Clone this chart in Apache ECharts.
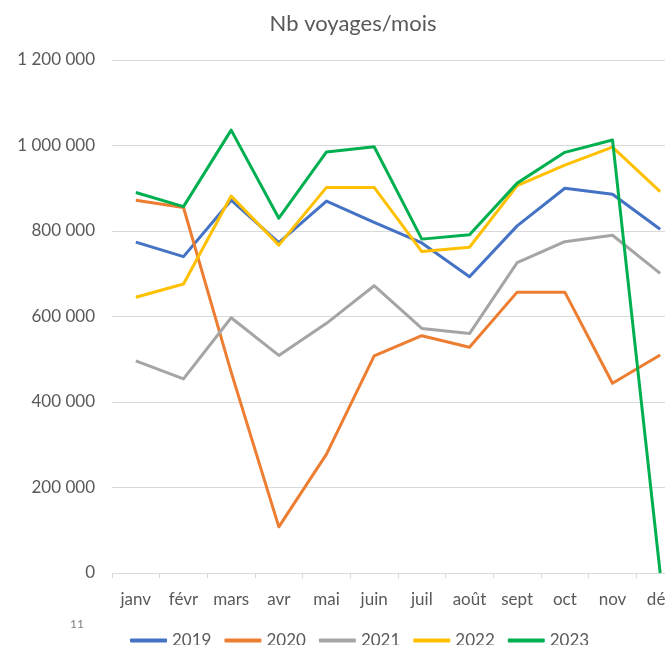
<!DOCTYPE html>
<html>
<head>
<meta charset="utf-8">
<script src="https://cdn.jsdelivr.net/npm/echarts@6/dist/echarts.min.js"></script>
<style>
  html, body { margin: 0; padding: 0; background: #fff; overflow: hidden; }
  /* le graphique d'origine est plus large que la fenêtre : il est rogné à droite */
  #main { width: 706px; height: 645px; }
</style>
</head>
<body>
<div id="main"></div>
<script>
// données
var mois = ['janv', 'févr', 'mars', 'avr', 'mai', 'juin', 'juil', 'août', 'sept', 'oct', 'nov', 'déc'];
var annees = ['2019', '2020', '2021', '2022', '2023'];
var couleurs = ['#4472C4', '#ED7D31', '#A5A5A5', '#FFC000', '#00B050'];

var v2019 = [774000, 740000, 872000, 773000, 870000, 820000, 772000, 693000, 812000, 900000, 886000, 804000];
var v2020 = [872000, 855000, 470000, 108000, 278000, 508000, 555000, 528000, 657000, 657000, 444000, 510000];
var v2021 = [496000, 454000, 597000, 509000, 584000, 672000, 572000, 560000, 726000, 775000, 790000, 701000];
var v2022 = [645000, 676000, 882000, 767000, 902000, 902000, 752000, 762000, 906000, 954000, 996000, 892000];
var v2023 = [890000, 857000, 1036000, 830000, 985000, 997000, 781000, 791000, 912000, 984000, 1013000, 0];
var valeurs = [v2019, v2020, v2021, v2022, v2023];

var yMin = 0, yMax = 1200000, yPas = 200000;

function milliers(v) {
    return String(v).replace(/\B(?=(\d{3})+(?!\d))/g, ' ');
}

var police = 'Lato, "Open Sans", sans-serif';
var gris = '#595959';

var series = [];
for (var i = 0; i < annees.length; i++) {
    series.push({
        name: annees[i],
        type: 'line',
        data: valeurs[i],
        symbol: 'none',
        color: couleurs[i],
        lineStyle: { width: 3, color: couleurs[i], join: 'round' },
        emphasis: { disabled: true }
    });
}

var chart = echarts.init(document.getElementById('main'), null, { renderer: 'canvas' });
chart.setOption({
    animation: false,
    backgroundColor: '#fff',
    textStyle: { fontFamily: police },
    title: {
        text: 'Nb voyages/mois',
        left: 'center',
        top: 8,
        textStyle: { fontFamily: police, fontSize: 22, fontWeight: 'normal', color: gris }
    },
    legend: {
        data: annees,
        left: 125,
        top: 627,
        itemWidth: 37,
        itemHeight: 4,
        itemGap: 13,
        icon: 'roundRect',
        textStyle: { fontFamily: police, fontSize: 17, color: gris }
    },
    grid: { left: 112, right: 22, top: 60, bottom: 72, containLabel: false },
    xAxis: {
        type: 'category',
        data: mois,
        boundaryGap: true,
        axisLine: { lineStyle: { color: '#d9d9d9', width: 1 } },
        axisTick: { show: true, length: 5, lineStyle: { color: '#d9d9d9' } },
        axisLabel: { margin: 18, fontFamily: police, fontSize: 17, color: gris, interval: 0 }
    },
    yAxis: {
        type: 'value',
        min: yMin,
        max: yMax,
        interval: yPas,
        axisLine: { show: false },
        axisTick: { show: false },
        splitLine: { lineStyle: { color: '#d9d9d9', width: 1 } },
        axisLabel: { margin: 17, fontFamily: police, fontSize: 17, color: gris, formatter: milliers }
    },
    graphic: [{
        type: 'text',
        left: 70,
        top: 618,
        style: { text: '11', fontFamily: police, fontSize: 12, fill: '#7f7f7f' }
    }],
    series: series
});
</script>
</body>
</html>
